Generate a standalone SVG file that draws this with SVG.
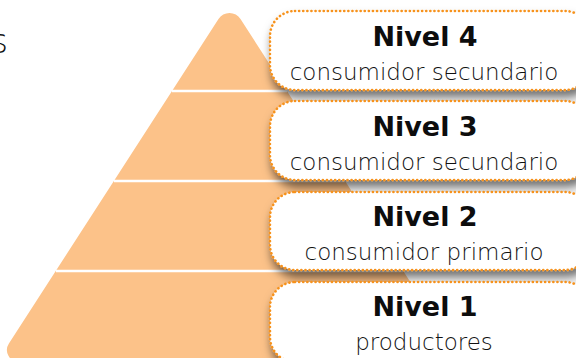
<svg xmlns="http://www.w3.org/2000/svg" width="576" height="358" viewBox="0 0 576 358">
<defs>
<style>
.box{fill:#ffffff;stroke:#f7921b;stroke-width:2.6;stroke-dasharray:0.1 4;stroke-linecap:round}
.t{font-family:"DejaVu Sans","Liberation Sans",sans-serif;font-weight:bold;font-size:27px;fill:#0d0d0d;text-anchor:middle}
.s{font-family:"DejaVu Sans","Liberation Sans",sans-serif;font-weight:200;font-size:23px;fill:#111111;text-anchor:middle}
.sep{stroke:#ffffff;stroke-width:2.5}
</style>
<filter id="sh" x="-10%" y="-30%" width="130%" height="170%">
<feDropShadow dx="2" dy="7" stdDeviation="5" flood-color="#000000" flood-opacity="0.55"/>
</filter>
</defs>
<text x="8" y="53" style="font-family:'DejaVu Sans','Liberation Sans',sans-serif;font-weight:200;font-size:33px;fill:#111111;text-anchor:end">s</text>
<g id="pyramid">
<path d="M218.5 19 L8.9 343.5 A12 12 0 0 0 19 362 L462 362 L240.5 19 A13.1 13.1 0 0 0 218.5 19 Z" fill="#fcc289"/>
<line class="sep" x1="172" y1="91" x2="287" y2="91"/>
<line class="sep" x1="114" y1="181" x2="345" y2="181"/>
<line class="sep" x1="56" y1="271" x2="403" y2="271"/>
</g>
<g id="nivel4">
<rect class="box" x="270" y="11" width="320" height="79" rx="25" filter="url(#sh)"/>
<text class="t" x="425" y="46">Nivel 4</text>
<text class="s" x="424" y="80">consumidor secundario</text>
</g>
<g id="nivel3">
<rect class="box" x="270" y="101" width="320" height="79" rx="25" filter="url(#sh)"/>
<text class="t" x="425" y="136">Nivel 3</text>
<text class="s" x="424" y="170">consumidor secundario</text>
</g>
<g id="nivel2">
<rect class="box" x="270" y="192" width="320" height="78" rx="25" filter="url(#sh)"/>
<text class="t" x="425" y="226">Nivel 2</text>
<text class="s" x="424" y="260">consumidor primario</text>
</g>
<g id="nivel1">
<rect class="box" x="270" y="282" width="320" height="80" rx="25" filter="url(#sh)"/>
<text class="t" x="425" y="316">Nivel 1</text>
<text class="s" x="424" y="350">productores</text>
</g>
</svg>
